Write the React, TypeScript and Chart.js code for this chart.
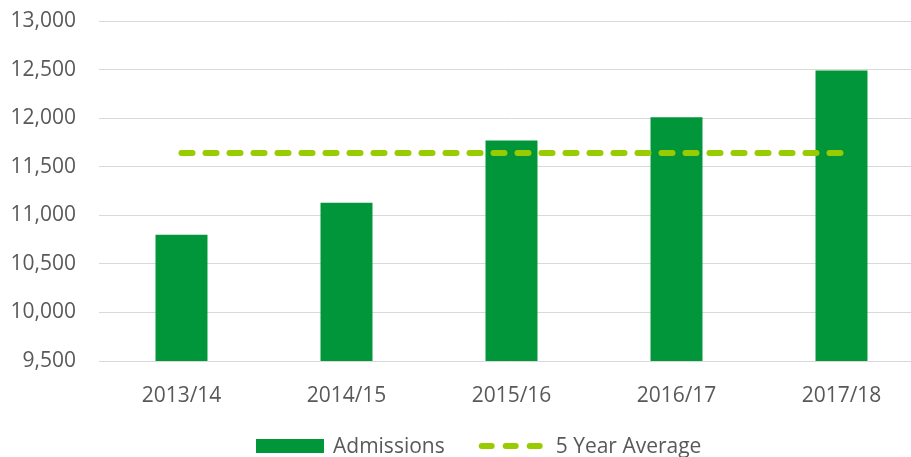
import { useEffect, useRef } from "react";
import { Chart, registerables } from "chart.js";

Chart.register(...registerables);

const categories = ["2013/14", "2014/15", "2015/16", "2016/17", "2017/18"];
const admissions = [10800, 11130, 11770, 12010, 12490];
const fiveYearAverage = [11640, 11640, 11640, 11640, 11640];
const seriesNames = ["Admissions", "5 Year Average"];
const yMin = 9500;
const yMax = 13000;
const yStep = 500;

const BAR_COLOR = "#009639";
const LINE_COLOR = "#99CC00";
const TEXT_COLOR = "#595959";
const GRID_COLOR = "#d9d9d9";
const FONT = "'Open Sans', sans-serif";
const FONT_SIZE = 21;

const legendPlugin = {
  id: "customLegend",
  afterDraw(chart: any) {
    const ctx = chart.ctx as CanvasRenderingContext2D;
    const base = chart.chartArea.bottom + 92;
    ctx.save();
    ctx.font = `${FONT_SIZE}px ${FONT}`;
    ctx.textBaseline = "alphabetic";
    ctx.textAlign = "left";
    let x = 256;
    // bar swatch
    ctx.fillStyle = BAR_COLOR;
    ctx.fillRect(x, base - 14, 68, 14);
    x += 68 + 9;
    ctx.fillStyle = TEXT_COLOR;
    ctx.fillText(seriesNames[0], x, base);
    x += ctx.measureText(seriesNames[0]).width + 34;
    // dashed line swatch
    ctx.strokeStyle = LINE_COLOR;
    ctx.lineWidth = 6;
    ctx.lineCap = "round";
    ctx.setLineDash([10, 14]);
    ctx.beginPath();
    ctx.moveTo(x + 3, base - 7);
    ctx.lineTo(x + 62, base - 7);
    ctx.stroke();
    ctx.setLineDash([]);
    x += 65 + 12;
    ctx.fillStyle = TEXT_COLOR;
    ctx.fillText(seriesNames[1], x, base);
    ctx.restore();
  },
};

export default function App() {
  const canvasRef = useRef<HTMLCanvasElement | null>(null);

  useEffect(() => {
    const canvas = canvasRef.current;
    if (!canvas) return;
    const chart = new Chart(canvas, {
      type: "bar",
      data: {
        labels: categories,
        datasets: [
          {
            type: "bar",
            label: seriesNames[0],
            data: admissions,
            backgroundColor: BAR_COLOR,
            borderWidth: 0,
            categoryPercentage: 1,
            barPercentage: 0.315,
            order: 2,
          },
          {
            type: "line",
            label: seriesNames[1],
            data: fiveYearAverage,
            borderColor: LINE_COLOR,
            backgroundColor: LINE_COLOR,
            borderWidth: 6,
            borderDash: [11, 13],
            borderCapStyle: "round",
            pointRadius: 0,
            pointHoverRadius: 0,
            fill: false,
            tension: 0,
            order: 1,
          },
        ],
      } as any,
      options: {
        responsive: false,
        animation: false,
        devicePixelRatio: 1,
        layout: { padding: { left: 0, right: 0, top: 21, bottom: 0 } },
        font: { family: FONT, size: FONT_SIZE },
        plugins: {
          legend: { display: false },
          tooltip: { enabled: false },
        },
        scales: {
          x: {
            offset: true,
            grid: { display: false, drawTicks: false },
            border: { display: false },
            ticks: {
              color: TEXT_COLOR,
              font: { family: FONT, size: FONT_SIZE },
              padding: 22,
              maxRotation: 0,
              autoSkip: false,
            },
            afterFit(scale: any) {
              scale.height = 96;
            },
          },
          y: {
            min: yMin,
            max: yMax,
            grid: { color: GRID_COLOR, lineWidth: 1, drawTicks: false },
            border: { display: false },
            ticks: {
              stepSize: yStep,
              color: TEXT_COLOR,
              font: { family: FONT, size: FONT_SIZE },
              padding: 23,
              callback: (v: any) => Number(v).toLocaleString("en-US"),
            },
            afterFit(scale: any) {
              scale.width = 99;
              scale.paddingTop = 0;
              scale.paddingBottom = 0;
            },
          },
        },
      } as any,
      plugins: [legendPlugin],
    });
    return () => chart.destroy();
  }, []);

  return (
    <div
      style={{
        position: "fixed",
        left: 0,
        top: 0,
        width: 911,
        height: 457,
        overflow: "hidden",
        background: "#ffffff",
      }}
    >
      <canvas
        ref={canvasRef}
        width={924}
        height={457}
        style={{ display: "block", width: 924, height: 457 }}
      />
    </div>
  );
}
